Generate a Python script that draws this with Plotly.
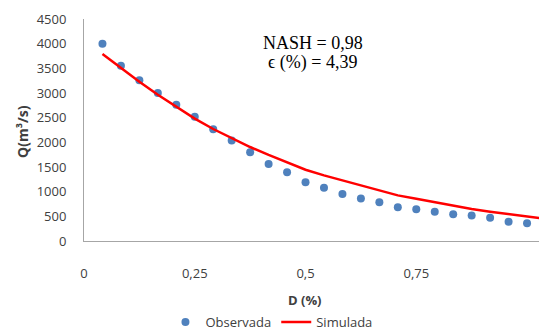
import plotly.graph_objects as go

# Exceedance fraction D (%) and discharge Q (m³/s)
d_obs = [k / 24 for k in range(1, 25)]
q_obs = [4000, 3550, 3260, 3000, 2760, 2520, 2265, 2035, 1800, 1560,
         1395, 1190, 1080, 955, 860, 785, 685, 645, 595, 540,
         515, 470, 390, 360]

d_sim = [k / 24 for k in range(1, 26)]
q_sim = [3790, 3505, 3230, 2965, 2720, 2480, 2270, 2080, 1905, 1745,
         1590, 1445, 1330, 1230, 1120, 1015, 925, 855, 785, 715,
         650, 595, 540, 493, 447]

x_ticks = [0, 0.25, 0.5, 0.75]
x_tick_text = ["0", "0,25", "0,5", "0,75"]
y_ticks = list(range(0, 4501, 500))

tick_font = dict(family="Open Sans", size=13, color="#404040")

fig = go.Figure()
fig.add_trace(go.Scatter(
    x=d_obs, y=q_obs, mode="markers", name="Observada",
    marker=dict(color="#4f81bd", size=8),
))
fig.add_trace(go.Scatter(
    x=d_sim, y=q_sim, mode="lines", name="Simulada",
    line=dict(color="#ff0000", width=2.5),
))

fig.update_layout(
    width=539, height=330,
    margin=dict(l=84, r=0, t=19, b=89, autoexpand=False),
    paper_bgcolor="white", plot_bgcolor="white",
    showlegend=True,
    legend=dict(
        orientation="h", x=0.412, y=-0.365, xanchor="center", yanchor="middle",
        font=dict(family="Open Sans", size=13, color="#404040"),
        itemwidth=30, tracegroupgap=0,
    ),
    xaxis=dict(
        range=[0, 1.027], tickvals=x_ticks, ticktext=x_tick_text,
        showgrid=False, zeroline=False, showline=True,
        linecolor="#a6a6a6", linewidth=1, ticks="",
        tickfont=tick_font, ticklabelstandoff=20,
    ),
    yaxis=dict(
        range=[0, 4500], tickvals=y_ticks,
        showgrid=False, zeroline=False, showline=True,
        linecolor="#a6a6a6", linewidth=1, ticks="",
        tickfont=tick_font, ticklabelstandoff=14,
    ),
    annotations=[
        dict(text="<b>D (%)</b>", xref="paper", yref="paper",
             x=(305 - 84) / 455, y=(241 - 300) / 222,
             xanchor="center", yanchor="middle", showarrow=False,
             font=dict(family="Open Sans", size=13, color="#404040")),
        dict(text="<b>Q(m³/s)</b>", xref="paper", yref="paper",
             x=(22 - 84) / 455, y=(241 - 132) / 222, textangle=-90,
             xanchor="center", yanchor="middle", showarrow=False,
             font=dict(family="Open Sans", size=14, color="#404040")),
        dict(text="NASH = 0,98", xref="paper", yref="paper",
             x=(313 - 84) / 455, y=(241 - 43) / 222,
             xanchor="center", yanchor="middle", showarrow=False,
             font=dict(family="Liberation Serif", size=18, color="#000000")),
        dict(text="ϵ (%) = 4,39", xref="paper", yref="paper",
             x=(312 - 84) / 455, y=(241 - 63) / 222,
             xanchor="center", yanchor="middle", showarrow=False,
             font=dict(family="Liberation Serif", size=18, color="#000000")),
    ],
)

fig.write_html("out.html")
